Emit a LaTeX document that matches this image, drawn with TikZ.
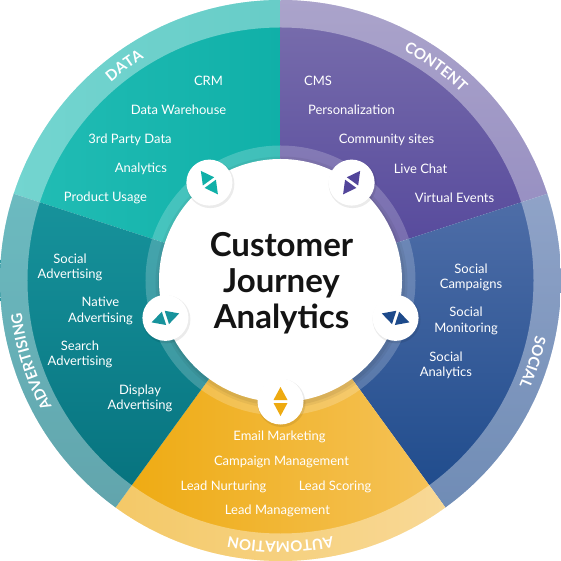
\documentclass[tikz,border=0pt]{standalone}
\usepackage{fontspec}
\setmainfont{Lato}
\newfontfamily\ringfont[LetterSpace=10]{Lato}
\usepackage{tikz}
\usetikzlibrary{decorations.text}
\definecolor{datalight}{HTML}{22BDB5}
\definecolor{datadark}{HTML}{10B0A8}
\definecolor{contentlight}{HTML}{7A6FAD}
\definecolor{contentdark}{HTML}{52459A}
\definecolor{sociallight}{HTML}{4F6EA8}
\definecolor{socialdark}{HTML}{1D4A8B}
\definecolor{autolight}{HTML}{F5C35A}
\definecolor{autodark}{HTML}{EEAA10}
\definecolor{advlight}{HTML}{17939C}
\definecolor{advdark}{HTML}{06717D}
\definecolor{titlecol}{HTML}{141414}
\tikzstyle{item} = [text = white, font = \fontsize{13}{15.5}\selectfont, align = center, inner sep = 0pt]
\tikzstyle{title} = [text = titlecol, font = \fontsize{33}{36}\selectfont\bfseries, align = center, inner sep = 0pt]
\tikzstyle{button} = [circle, fill = white, minimum size = 46pt, inner sep = 0pt]
\tikzstyle{ring} = [decorate, decoration = {text along path, text align = center, text color = white}]
\tikzset{twin/.pic = {
	\fill (-7,1.5) -- (7,1.5) -- (0,14.5) -- cycle;
	\fill (-7,-1.5) -- (7,-1.5) -- (0,-14.5) -- cycle;
}}

\begin{document}
\begin{tikzpicture}[x = 1pt, y = 1pt]
	\useasboundingbox (-280.5,-280.5) rectangle (280.5,280.5);

	\shade [left color = datalight, right color = datadark] (0,0) -- (90:280.5) arc [start angle = 90, end angle = 162, radius = 280.5pt] -- cycle;
	\shade [top color = contentlight, bottom color = contentdark] (0,0) -- (18:280.5) arc [start angle = 18, end angle = 90, radius = 280.5pt] -- cycle;
	\shade [top color = sociallight, bottom color = socialdark] (0,0) -- (-54:280.5) arc [start angle = -54, end angle = 18, radius = 280.5pt] -- cycle;
	\shade [left color = autodark, right color = autolight] (0,0) -- (-126:280.5) arc [start angle = -126, end angle = -54, radius = 280.5pt] -- cycle;
	\shade [top color = advlight, bottom color = advdark] (0,0) -- (162:280.5) arc [start angle = 162, end angle = 234, radius = 280.5pt] -- cycle;

	\fill [white, opacity = 0.37, even odd rule] (0,0) circle (280.5pt) (0,0) circle (253pt);
	\fill [white, opacity = 0.2] (0,0) circle (135pt);
	\fill [black, opacity = 0.05] (1,-2) circle (126pt);
	\fill [black, opacity = 0.06] (1,-2) circle (123.5pt);
	\node (hub)[circle, fill = white, minimum size = 243pt, inner sep = 0pt] at (0,0) {};

	\node (title)[title] at (1,-3) {Customer\\Journey\\Analytics};

	\path [ring, decoration = {text = {|\ringfont\bfseries\fontsize{15}{15}\selectfont|DATA}}] (156:261) arc [start angle = 156, end angle = 96, radius = 261pt];
	\path [ring, decoration = {text = {|\ringfont\bfseries\fontsize{15}{15}\selectfont|CONTENT}}] (84:261) arc [start angle = 84, end angle = 24, radius = 261pt];
	\path [ring, decoration = {text = {|\ringfont\bfseries\fontsize{15}{15}\selectfont|SOCIAL}}] (12:261) arc [start angle = 12, end angle = -48, radius = 261pt];
	\path [ring, decoration = {text = {|\ringfont\bfseries\fontsize{15}{15}\selectfont|AUTOMATION}}] (-60:261) arc [start angle = -60, end angle = -120, radius = 261pt];
	\path [ring, decoration = {text = {|\ringfont\bfseries\fontsize{15}{15}\selectfont|ADVERTISING}}] (228:261) arc [start angle = 228, end angle = 168, radius = 261pt];

	\node (crm)[item, anchor = base] at (-72,194.5) {CRM};
	\node (warehouse)[item, anchor = base] at (-102,165.5) {Data Warehouse};
	\node (party)[item, anchor = base] at (-150.5,136.5) {3rd Party Data};
	\node (analytics)[item, anchor = base] at (-139.5,107.5) {Analytics};
	\node (usage)[item, anchor = base] at (-175,78.5) {Product Usage};

	\node (cms)[item, anchor = base] at (37.5,194.5) {CMS};
	\node (personal)[item, anchor = base] at (71,165.5) {Personalization};
	\node (community)[item, anchor = base] at (106,136.5) {Community sites};
	\node (chat)[item, anchor = base] at (140,106.5) {Live Chat};
	\node (events)[item, anchor = base] at (174,77.5) {Virtual Events};

	\node (campaigns)[item] at (190.5,3) {Social\\Campaigns};
	\node (monitoring)[item] at (185.5,-40.5) {Social\\Monitoring};
	\node (socana)[item] at (165.5,-84.8) {Social\\Analytics};

	\node (email)[item, anchor = base] at (-1,-159.5) {Email Marketing};
	\node (campman)[item, anchor = base] at (1,-184.5) {Campaign Management};
	\node (nurturing)[item, anchor = base] at (-57,-209.5) {Lead Nurturing};
	\node (scoring)[item, anchor = base] at (54.5,-209.5) {Lead Scoring};
	\node (leadman)[item, anchor = base] at (-3,-233.5) {Lead Management};

	\node (socadv)[item] at (-210.5,13) {Social\\Advertising};
	\node (native)[item] at (-180,-30.5) {Native\\Advertising};
	\node (search)[item] at (-200.5,-74) {Search\\Advertising};
	\node (display)[item] at (-140.5,-118) {Display\\Advertising};

	\fill [black, opacity = 0.08] (126:121) ++(1,-1.5) circle (24pt);
	\fill [black, opacity = 0.08] (54:121) ++(1,-1.5) circle (24pt);
	\fill [black, opacity = 0.08] (-18:121) ++(1,-1.5) circle (24pt);
	\fill [black, opacity = 0.08] (-90:121) ++(1,-1.5) circle (24pt);
	\fill [black, opacity = 0.08] (198:121) ++(1,-1.5) circle (24pt);
	\node (btnData)[button] at (126:121) {};
	\node (btnContent)[button] at (54:121) {};
	\node (btnSocial)[button] at (-18:121) {};
	\node (btnAuto)[button] at (-90:121) {};
	\node (btnAdv)[button] at (198:121) {};
	\pic [fill = datadark, rotate = 216] at (btnData) {twin};
	\pic [fill = contentdark, rotate = 144] at (btnContent) {twin};
	\pic [fill = socialdark, rotate = 72] at (btnSocial) {twin};
	\pic [fill = autodark, rotate = 0] at (btnAuto) {twin};
	\pic [fill = advlight, rotate = 288] at (btnAdv) {twin};
\end{tikzpicture}
\end{document}
